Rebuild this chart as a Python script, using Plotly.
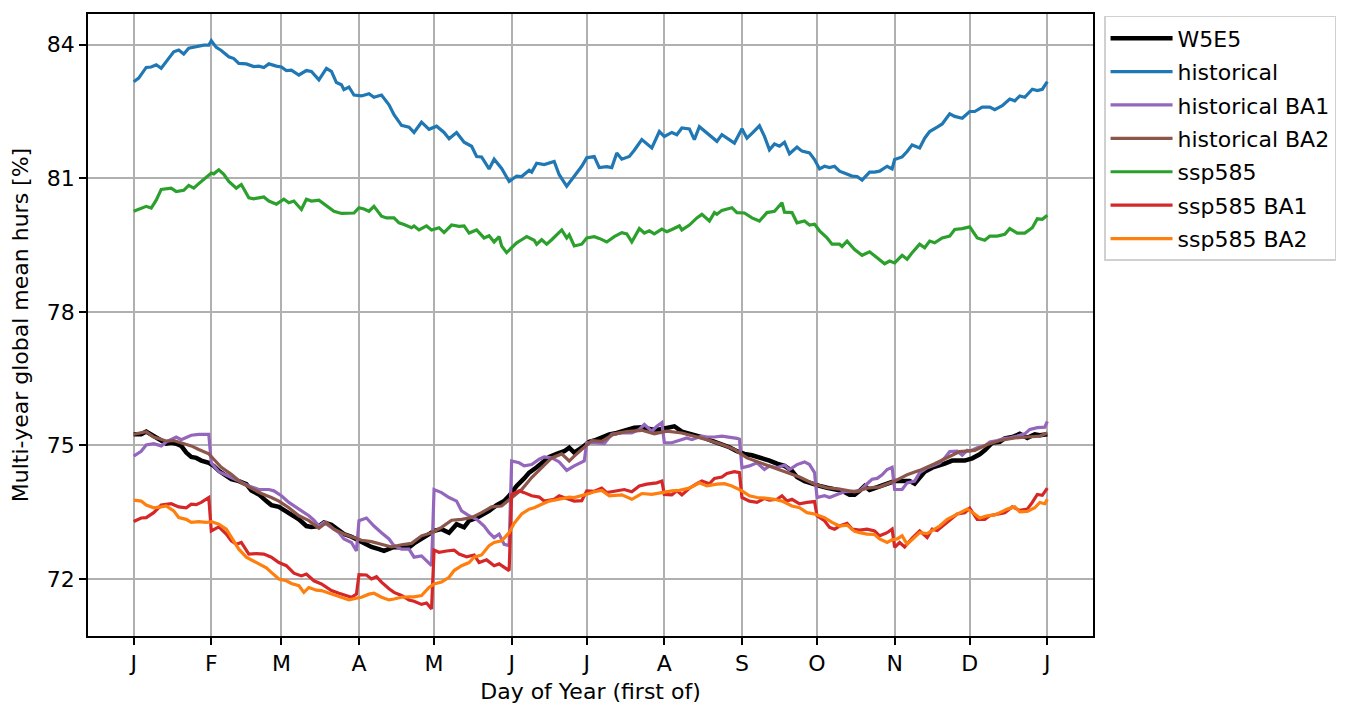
import plotly.graph_objects as go

# ---------------- data (day of year, value) ----------------
month_ticks = [0, 31, 59, 90, 120, 151, 181, 212, 243, 273, 304, 334, 365]
month_labels = ["J", "F", "M", "A", "M", "J", "J", "A", "S", "O", "N", "D", "J"]

w5e5_days = [0, 3, 5, 7, 9, 11, 13, 15, 17, 19, 21, 23, 25, 27, 30, 32, 34, 37, 39, 42, 45, 47, 50, 53, 55, 58, 61, 63, 66, 69, 71, 74, 76, 79, 82, 84, 87, 90, 93, 95, 98, 100, 104, 107, 110, 112, 115, 118, 120, 123, 126, 129, 132, 134, 137, 140, 142, 145, 148, 150, 153, 156, 158, 161, 164, 166, 169, 172, 174, 176, 179, 182, 184, 187, 190, 193, 197, 200, 203, 207, 210, 213, 216, 219, 221, 225, 228, 231, 235, 238, 241, 244, 247, 251, 254, 257, 260, 263, 265, 268, 270, 274, 277, 280, 283, 286, 288, 290, 292, 294, 296, 299, 302, 304, 307, 310, 312, 314, 316, 319, 322, 324, 327, 330, 332, 335, 338, 340, 343, 346, 348, 351, 354, 357, 360, 362, 365]
w5e5_vals = [75.25, 75.25, 75.31, 75.25, 75.17, 75.11, 75.04, 75.06, 75.04, 74.99, 74.84, 74.74, 74.72, 74.66, 74.61, 74.54, 74.43, 74.31, 74.24, 74.20, 74.13, 73.99, 73.90, 73.75, 73.66, 73.62, 73.51, 73.46, 73.34, 73.19, 73.17, 73.19, 73.27, 73.22, 73.10, 73.01, 72.95, 72.86, 72.77, 72.72, 72.67, 72.63, 72.72, 72.71, 72.71, 72.80, 72.92, 73.01, 73.08, 73.12, 73.04, 73.23, 73.16, 73.31, 73.37, 73.46, 73.53, 73.66, 73.75, 73.87, 74.09, 74.26, 74.39, 74.51, 74.65, 74.74, 74.81, 74.87, 74.95, 74.84, 74.95, 75.08, 75.11, 75.17, 75.25, 75.28, 75.34, 75.40, 75.41, 75.36, 75.36, 75.40, 75.43, 75.31, 75.28, 75.21, 75.17, 75.10, 75.02, 74.96, 74.87, 74.81, 74.78, 74.72, 74.66, 74.59, 74.54, 74.43, 74.29, 74.20, 74.16, 74.09, 74.05, 74.01, 73.98, 73.89, 73.89, 73.98, 74.09, 74.00, 74.04, 74.09, 74.16, 74.20, 74.20, 74.20, 74.14, 74.26, 74.41, 74.50, 74.54, 74.59, 74.66, 74.66, 74.66, 74.71, 74.80, 74.89, 75.06, 75.08, 75.16, 75.19, 75.26, 75.17, 75.25, 75.23, 75.25]

hist_days = [0, 2, 5, 7, 9, 11, 13, 16, 18, 20, 22, 25, 28, 30, 31, 33, 35, 38, 40, 42, 45, 48, 50, 52, 54, 57, 59, 61, 63, 66, 69, 71, 74, 77, 79, 81, 83, 84, 86, 88, 91, 94, 96, 99, 102, 104, 107, 110, 112, 115, 118, 121, 124, 126, 129, 132, 135, 137, 139, 142, 144, 147, 150, 153, 155, 158, 159, 161, 164, 168, 170, 173, 176, 179, 181, 184, 186, 189, 191, 193, 195, 198, 200, 203, 207, 210, 212, 215, 217, 219, 222, 224, 226, 229, 233, 235, 237, 240, 243, 245, 247, 250, 252, 254, 256, 258, 260, 262, 265, 267, 270, 272, 274, 276, 278, 280, 282, 284, 287, 289, 291, 294, 296, 298, 301, 303, 304, 307, 309, 311, 314, 316, 318, 321, 323, 326, 328, 331, 334, 336, 339, 342, 344, 347, 350, 352, 354, 356, 359, 361, 363, 365]
hist_vals = [83.17, 83.25, 83.49, 83.50, 83.55, 83.47, 83.62, 83.84, 83.88, 83.79, 83.92, 83.96, 83.99, 83.99, 84.09, 83.94, 83.87, 83.73, 83.69, 83.58, 83.57, 83.51, 83.52, 83.49, 83.57, 83.52, 83.50, 83.42, 83.43, 83.32, 83.42, 83.40, 83.21, 83.47, 83.40, 83.15, 83.10, 82.99, 83.05, 82.87, 82.85, 82.90, 82.82, 82.87, 82.65, 82.43, 82.19, 82.15, 82.03, 82.26, 82.10, 82.17, 82.03, 81.89, 82.03, 81.81, 81.72, 81.49, 81.48, 81.21, 81.43, 81.22, 80.93, 81.05, 81.04, 81.18, 81.14, 81.34, 81.31, 81.38, 81.08, 80.82, 81.04, 81.27, 81.46, 81.49, 81.24, 81.26, 81.24, 81.57, 81.43, 81.49, 81.63, 81.87, 81.68, 82.05, 81.94, 82.03, 81.98, 82.13, 82.11, 81.87, 82.16, 82.01, 81.83, 81.98, 81.90, 81.79, 82.11, 81.90, 82.01, 82.18, 81.94, 81.64, 81.77, 81.72, 81.81, 81.55, 81.70, 81.61, 81.57, 81.42, 81.21, 81.27, 81.24, 81.27, 81.16, 81.12, 81.05, 81.04, 80.96, 81.14, 81.14, 81.16, 81.27, 81.21, 81.42, 81.48, 81.60, 81.75, 81.68, 81.90, 82.05, 82.15, 82.22, 82.45, 82.39, 82.35, 82.50, 82.50, 82.60, 82.60, 82.54, 82.63, 82.78, 82.74, 82.85, 82.82, 83.00, 82.97, 83.00, 83.17]

hba1_days = [0, 3, 5, 8, 11, 13, 17, 19, 23, 26, 30, 31, 34, 38, 42, 46, 50, 54, 56, 59, 62, 66, 70, 72, 74, 76, 79, 82, 84, 87, 89, 90, 93, 96, 99, 102, 104, 107, 110, 112, 115, 118, 119, 120, 123, 126, 129, 131, 134, 137, 140, 142, 144, 146, 148, 150, 151, 154, 156, 159, 162, 164, 167, 170, 173, 176, 180, 181, 184, 188, 191, 195, 199, 202, 204, 207, 209, 211, 212, 215, 218, 221, 223, 227, 229, 232, 235, 238, 241, 242, 243, 246, 249, 252, 254, 257, 260, 262, 265, 268, 270, 272, 273, 276, 278, 281, 284, 287, 290, 293, 295, 297, 299, 301, 303, 304, 307, 309, 312, 314, 317, 320, 322, 324, 326, 329, 331, 333, 334, 337, 340, 342, 345, 348, 350, 353, 356, 358, 361, 364, 365]
hba1_vals = [74.76, 74.87, 75.01, 75.04, 74.99, 75.08, 75.19, 75.13, 75.23, 75.25, 75.25, 74.61, 74.41, 74.31, 74.20, 74.09, 74.01, 74.01, 73.98, 73.87, 73.72, 73.57, 73.42, 73.32, 73.19, 73.27, 73.16, 73.04, 72.90, 72.82, 72.63, 73.31, 73.37, 73.19, 73.04, 72.90, 72.75, 72.67, 72.67, 72.49, 72.52, 72.34, 72.30, 74.01, 73.94, 73.83, 73.75, 73.53, 73.42, 73.34, 73.19, 73.04, 72.93, 73.01, 72.78, 72.75, 74.65, 74.61, 74.54, 74.57, 74.69, 74.74, 74.72, 74.63, 74.44, 74.54, 74.65, 75.06, 75.06, 75.04, 75.25, 75.28, 75.28, 75.36, 75.47, 75.32, 75.43, 75.51, 75.06, 75.06, 75.11, 75.17, 75.13, 75.21, 75.19, 75.19, 75.21, 75.19, 75.16, 75.14, 74.50, 74.54, 74.61, 74.46, 74.54, 74.50, 74.56, 74.46, 74.57, 74.63, 74.57, 74.39, 73.83, 73.87, 73.83, 73.90, 73.96, 73.97, 73.98, 74.14, 74.24, 74.26, 74.34, 74.46, 74.51, 74.01, 74.01, 74.16, 74.20, 74.39, 74.50, 74.56, 74.61, 74.72, 74.86, 74.87, 74.78, 74.89, 74.87, 74.95, 74.99, 75.08, 75.11, 75.16, 75.17, 75.21, 75.26, 75.36, 75.40, 75.41, 75.54]

hba2_days = [0, 5, 8, 13, 16, 19, 23, 26, 30, 32, 35, 39, 43, 47, 51, 55, 58, 62, 66, 70, 74, 77, 80, 84, 87, 91, 95, 99, 103, 107, 111, 115, 119, 123, 127, 131, 135, 139, 143, 147, 151, 155, 159, 163, 167, 171, 174, 176, 180, 183, 187, 192, 197, 203, 208, 213, 219, 224, 229, 235, 240, 245, 251, 256, 261, 266, 272, 277, 282, 288, 293, 298, 304, 309, 314, 320, 325, 330, 336, 341, 346, 352, 357, 362, 365]
hba2_vals = [75.25, 75.31, 75.19, 75.10, 75.11, 75.06, 74.99, 74.91, 74.81, 74.69, 74.51, 74.35, 74.16, 74.04, 73.92, 73.83, 73.75, 73.60, 73.42, 73.31, 73.14, 73.27, 73.12, 73.01, 72.95, 72.87, 72.84, 72.78, 72.72, 72.77, 72.80, 72.97, 73.04, 73.16, 73.32, 73.34, 73.38, 73.49, 73.62, 73.64, 73.83, 74.01, 74.28, 74.50, 74.72, 74.81, 74.65, 74.76, 74.95, 75.11, 75.09, 75.26, 75.31, 75.34, 75.26, 75.32, 75.28, 75.21, 75.13, 75.02, 74.91, 74.72, 74.59, 74.50, 74.39, 74.29, 74.13, 74.05, 74.02, 73.96, 74.04, 74.07, 74.20, 74.34, 74.44, 74.59, 74.72, 74.86, 74.89, 75.02, 75.11, 75.17, 75.19, 75.21, 75.28]

ssp_days = [0, 2, 5, 7, 9, 11, 13, 15, 17, 20, 22, 24, 26, 28, 31, 32, 34, 36, 38, 41, 43, 46, 48, 50, 52, 54, 57, 60, 62, 64, 67, 69, 71, 74, 78, 80, 83, 86, 88, 90, 92, 94, 96, 99, 101, 104, 106, 108, 111, 112, 114, 117, 119, 122, 124, 127, 130, 132, 134, 137, 140, 142, 144, 146, 147, 149, 151, 153, 155, 157, 160, 161, 163, 165, 167, 171, 173, 174, 176, 179, 181, 184, 186, 189, 192, 195, 197, 199, 202, 204, 206, 208, 211, 213, 215, 218, 219, 222, 225, 227, 230, 232, 233, 235, 239, 241, 244, 247, 250, 253, 256, 259, 260, 263, 265, 268, 270, 272, 274, 277, 279, 282, 283, 285, 288, 291, 294, 296, 300, 302, 304, 307, 309, 311, 314, 316, 318, 320, 323, 326, 328, 331, 334, 337, 340, 342, 345, 348, 350, 353, 356, 359, 361, 363, 365]
ssp_vals = [80.26, 80.31, 80.37, 80.33, 80.51, 80.75, 80.76, 80.78, 80.70, 80.73, 80.84, 80.78, 80.88, 80.97, 81.12, 81.10, 81.19, 81.09, 80.93, 80.78, 80.86, 80.56, 80.54, 80.56, 80.58, 80.49, 80.42, 80.53, 80.45, 80.49, 80.30, 80.53, 80.49, 80.51, 80.34, 80.26, 80.21, 80.22, 80.22, 80.34, 80.31, 80.26, 80.37, 80.15, 80.11, 80.11, 80.00, 79.96, 79.89, 79.93, 79.84, 79.93, 79.84, 79.89, 79.78, 79.95, 79.92, 79.93, 79.77, 79.84, 79.66, 79.71, 79.57, 79.69, 79.48, 79.33, 79.44, 79.55, 79.62, 79.69, 79.61, 79.52, 79.62, 79.52, 79.62, 79.84, 79.66, 79.73, 79.48, 79.52, 79.66, 79.69, 79.65, 79.57, 79.69, 79.78, 79.75, 79.57, 79.87, 79.77, 79.82, 79.75, 79.86, 79.80, 79.85, 79.93, 79.84, 79.95, 80.11, 80.19, 80.04, 80.23, 80.19, 80.28, 80.34, 80.23, 80.22, 80.11, 80.04, 80.23, 80.26, 80.45, 80.24, 80.23, 80.00, 80.04, 79.95, 79.97, 79.82, 79.66, 79.52, 79.52, 79.47, 79.59, 79.40, 79.27, 79.35, 79.26, 79.08, 79.14, 79.10, 79.27, 79.18, 79.33, 79.52, 79.44, 79.59, 79.55, 79.66, 79.70, 79.85, 79.87, 79.91, 79.66, 79.61, 79.70, 79.70, 79.74, 79.87, 79.77, 79.77, 79.89, 80.09, 80.08, 80.17]

sba1_days = [0, 3, 5, 8, 11, 13, 15, 18, 21, 23, 25, 27, 30, 31, 34, 37, 39, 41, 43, 46, 49, 52, 55, 58, 61, 64, 67, 69, 72, 75, 79, 82, 84, 87, 89, 90, 93, 95, 97, 99, 102, 104, 107, 110, 112, 115, 117, 119, 120, 122, 125, 128, 130, 133, 136, 138, 141, 144, 146, 149, 150, 151, 154, 156, 159, 162, 164, 168, 170, 173, 176, 179, 181, 184, 187, 189, 193, 196, 199, 202, 205, 209, 211, 212, 215, 217, 219, 222, 225, 227, 230, 232, 235, 237, 240, 242, 243, 246, 249, 252, 254, 257, 259, 261, 263, 266, 269, 272, 273, 276, 278, 280, 282, 285, 287, 290, 293, 296, 298, 301, 303, 304, 306, 308, 311, 314, 317, 319, 321, 324, 326, 329, 332, 334, 337, 340, 342, 345, 348, 351, 354, 357, 359, 361, 363, 365]
sba1_vals = [73.29, 73.37, 73.38, 73.49, 73.66, 73.68, 73.69, 73.62, 73.60, 73.68, 73.67, 73.72, 73.83, 73.08, 73.17, 73.01, 72.86, 72.78, 72.82, 72.56, 72.57, 72.56, 72.49, 72.37, 72.30, 72.13, 72.07, 72.11, 71.96, 71.89, 71.74, 71.68, 71.65, 71.59, 71.66, 72.10, 72.09, 72.00, 72.05, 71.93, 71.78, 71.70, 71.63, 71.53, 71.50, 71.43, 71.46, 71.33, 72.65, 72.60, 72.63, 72.65, 72.56, 72.50, 72.54, 72.37, 72.43, 72.30, 72.34, 72.22, 72.19, 73.90, 73.98, 73.94, 73.87, 73.84, 73.75, 73.79, 73.87, 73.81, 73.75, 73.76, 73.98, 73.97, 74.04, 73.94, 73.98, 74.01, 73.96, 74.09, 74.13, 74.16, 74.20, 73.90, 73.89, 73.98, 73.89, 74.04, 74.14, 74.20, 74.14, 74.26, 74.29, 74.37, 74.41, 74.39, 73.83, 73.75, 73.72, 73.81, 73.77, 73.79, 73.87, 73.75, 73.79, 73.69, 73.72, 73.74, 73.42, 73.31, 73.16, 73.12, 73.19, 73.25, 73.12, 73.10, 73.12, 73.08, 72.97, 73.04, 73.12, 72.71, 72.82, 72.72, 72.92, 73.08, 72.93, 73.12, 73.09, 73.23, 73.31, 73.46, 73.49, 73.59, 73.34, 73.34, 73.42, 73.46, 73.49, 73.62, 73.54, 73.57, 73.72, 73.90, 73.88, 74.04]

sba2_days = [0, 3, 5, 8, 11, 13, 16, 18, 21, 23, 26, 29, 31, 34, 37, 39, 42, 45, 47, 50, 53, 55, 58, 61, 63, 66, 68, 70, 73, 75, 78, 81, 83, 86, 89, 91, 94, 96, 99, 102, 104, 107, 110, 112, 115, 118, 120, 123, 126, 128, 131, 134, 136, 139, 142, 144, 147, 150, 152, 155, 158, 160, 163, 166, 168, 171, 174, 176, 179, 182, 184, 187, 190, 195, 199, 203, 207, 211, 215, 218, 222, 226, 229, 233, 236, 239, 243, 246, 249, 253, 256, 259, 263, 266, 269, 272, 276, 279, 282, 285, 288, 290, 293, 296, 298, 301, 303, 305, 307, 309, 312, 314, 317, 320, 322, 325, 328, 330, 333, 336, 338, 341, 344, 346, 349, 352, 354, 357, 360, 362, 364, 365]
sba2_vals = [73.77, 73.75, 73.66, 73.60, 73.62, 73.64, 73.53, 73.38, 73.34, 73.27, 73.29, 73.27, 73.29, 73.23, 73.12, 72.93, 72.67, 72.49, 72.43, 72.34, 72.25, 72.15, 72.00, 71.96, 71.90, 71.85, 71.70, 71.81, 71.75, 71.74, 71.68, 71.63, 71.59, 71.53, 71.57, 71.59, 71.66, 71.68, 71.59, 71.53, 71.55, 71.59, 71.60, 71.60, 71.63, 71.81, 71.89, 71.93, 72.04, 72.19, 72.30, 72.37, 72.49, 72.54, 72.75, 72.82, 72.86, 73.04, 73.25, 73.46, 73.57, 73.60, 73.68, 73.75, 73.77, 73.81, 73.84, 73.83, 73.87, 73.92, 73.96, 73.99, 73.87, 73.89, 73.79, 73.92, 73.90, 73.94, 73.98, 73.99, 74.04, 74.16, 74.09, 74.13, 74.14, 74.09, 73.98, 73.87, 73.83, 73.81, 73.79, 73.75, 73.64, 73.60, 73.49, 73.46, 73.38, 73.27, 73.19, 73.21, 73.07, 73.04, 73.01, 73.00, 72.90, 72.82, 72.88, 72.90, 72.97, 72.78, 72.95, 73.04, 73.02, 73.12, 73.19, 73.34, 73.42, 73.49, 73.57, 73.46, 73.37, 73.42, 73.44, 73.49, 73.57, 73.62, 73.51, 73.52, 73.60, 73.72, 73.69, 73.79]

series = [
    ("W5E5", w5e5_days, w5e5_vals, "#000000", 4.5),
    ("historical", hist_days, hist_vals, "#1f77b4", 3.2),
    ("historical BA1", hba1_days, hba1_vals, "#9467bd", 3.2),
    ("historical BA2", hba2_days, hba2_vals, "#8c564b", 3.2),
    ("ssp585", ssp_days, ssp_vals, "#2ca02c", 3.2),
    ("ssp585 BA1", sba1_days, sba1_vals, "#d62728", 3.2),
    ("ssp585 BA2", sba2_days, sba2_vals, "#ff7f0e", 3.2),
]

fig = go.Figure()
for name, d, v, c, w in series:
    fig.add_trace(go.Scatter(x=d, y=v, mode="lines", name=name, legendgroup=name,
                             line=dict(color=c, width=w)))

FONT = "DejaVu Sans"
FS = 22
fig.update_layout(
    width=1346, height=706,
    margin=dict(l=80, r=261, t=4, b=78),
    paper_bgcolor="white", plot_bgcolor="white",
    font=dict(family=FONT, size=FS, color="black"),
    showlegend=True,
    legend=dict(x=1.011, y=0.997, xanchor="left", yanchor="top",
                bgcolor="white", bordercolor="#d0d0d0", borderwidth=1.5,
                font=dict(family=FONT, size=FS, color="black"),
                traceorder="grouped", tracegroupgap=1.8, itemwidth=62),
    xaxis=dict(range=[-18.25, 383.25], tickmode="array", tickvals=month_ticks, ticktext=month_labels,
               showgrid=True, gridcolor="#b0b0b0", gridwidth=1.6,
               showline=True, linecolor="black", linewidth=1.6, mirror=True,
               ticks="outside", ticklen=7, tickwidth=1.6, tickcolor="black",
               zeroline=False,
               title=dict(text="Day of Year (first of)", standoff=8, font=dict(size=FS))),
    yaxis=dict(range=[70.72, 84.69], tickmode="array", tickvals=[72, 75, 78, 81, 84],
               showgrid=True, gridcolor="#b0b0b0", gridwidth=1.6,
               showline=True, linecolor="black", linewidth=1.6, mirror=True,
               ticks="outside", ticklen=7, tickwidth=1.6, tickcolor="black",
               zeroline=False,
               title=dict(text="Multi-year global mean hurs [%]", standoff=12, font=dict(size=FS))),
)

fig.write_html("out.html")
